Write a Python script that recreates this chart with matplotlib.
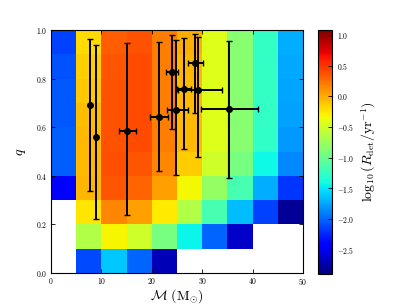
import numpy as np
import matplotlib
matplotlib.use('Agg')
import matplotlib.pyplot as plt

plt.rcParams['font.family'] = 'cmr10'
plt.rcParams['mathtext.fontset'] = 'cm'
plt.rcParams['axes.formatter.use_mathtext'] = True

nan = np.nan

# bin edges: chirp mass (Msun) and mass ratio q
mass_edges = [0, 5, 10, 15, 20, 25, 30, 35, 40, 45, 50]
q_edges = [0.0, 0.1, 0.2, 0.3, 0.4, 0.5, 0.6, 0.7, 0.8, 0.9, 1.0]

# log10 detection rate, one row per q bin (bottom row first)
log_rate = [
    [nan, -2.12, -1.61, -2.00, -2.70, nan, nan, nan, nan, nan],
    [nan, -0.65, -0.31, -0.52, -0.93, -1.45, -2.00, -2.64, nan, nan],
    [nan, -0.25, 0.15, 0.05, -0.26, -0.66, -1.16, -1.66, -2.15, -2.81],
    [-2.45, -0.05, 0.36, 0.29, 0.05, -0.33, -0.80, -1.16, -1.72, -2.20],
    [-2.03, -0.06, 0.39, 0.36, 0.15, -0.14, -0.52, -0.93, -1.43, -1.87],
    [-2.04, -0.06, 0.38, 0.40, 0.18, -0.06, -0.43, -0.85, -1.28, -1.80],
    [-2.05, -0.08, 0.38, 0.40, 0.18, -0.06, -0.43, -0.85, -1.26, -1.78],
    [-2.06, -0.12, 0.37, 0.41, 0.18, -0.06, -0.43, -0.85, -1.26, -1.76],
    [-2.08, -0.15, 0.36, 0.41, 0.18, -0.05, -0.43, -0.85, -1.26, -1.74],
    [-2.14, -0.21, 0.33, 0.38, 0.18, -0.02, -0.43, -0.85, -1.26, -1.72],
]

# observed events: chirp mass, q and their (lower, upper) errors
ev_mass = [7.8, 8.9, 15.1, 21.4, 24.0, 24.8, 26.4, 28.6, 29.1, 35.4]
ev_q = [0.693, 0.558, 0.585, 0.643, 0.826, 0.671, 0.756, 0.863, 0.752, 0.675]
ev_mass_lo = [0.0, 0.0, 1.7, 1.8, 1.2, 1.85, 1.4, 1.4, 4.0, 5.65]
ev_mass_hi = [0.0, 0.0, 1.7, 1.8, 1.2, 2.45, 1.4, 1.6, 4.8, 5.65]
ev_q_lo = [0.356, 0.335, 0.348, 0.222, 0.233, 0.268, 0.246, 0.206, 0.273, 0.285]
ev_q_hi = [0.271, 0.382, 0.361, 0.307, 0.154, 0.289, 0.210, 0.121, 0.221, 0.281]

fig = plt.figure(figsize=(4.07, 3.05), dpi=100)
ax = fig.add_axes([51 / 407, 32 / 305, 252 / 407, 243 / 305])
cax = fig.add_axes([318 / 407, 31 / 305, 14 / 407, 244 / 305])

Z = np.ma.masked_invalid(np.array(log_rate))
mesh = ax.pcolormesh(mass_edges, q_edges, Z, cmap='jet', vmin=-2.9, vmax=1.08,
                     shading='flat', edgecolors='none')

ax.errorbar(ev_mass, ev_q, xerr=[ev_mass_lo, ev_mass_hi], yerr=[ev_q_lo, ev_q_hi],
            fmt='o', color='black', ms=4, elinewidth=1.4, capsize=2.5, capthick=1)

ax.set_xlim(0, 50)
ax.set_ylim(0, 1)
ax.set_xticks([0, 10, 20, 30, 40, 50])
ax.set_yticks([0.0, 0.2, 0.4, 0.6, 0.8, 1.0])
ax.tick_params(direction='in', top=True, right=True, labelsize=5.5, length=3,
               width=0.6, pad=2.5)
ax.set_xlabel(r'$\mathcal{M}\ (\mathrm{M}_{\odot})$', fontsize=10, labelpad=0)
ax.set_ylabel(r'$q$', fontsize=10, labelpad=6)

cb = fig.colorbar(mesh, cax=cax)
cb.set_ticks([-2.5, -2.0, -1.5, -1.0, -0.5, 0.0, 0.5, 1.0])
cax.tick_params(direction='in', labelsize=5.5, length=3, width=0.6)
cb.set_label(r'$\log_{10}(R_{\rm det}/{\rm yr}^{-1})$', fontsize=10, labelpad=4)

fig.savefig('out.png', dpi=100)
